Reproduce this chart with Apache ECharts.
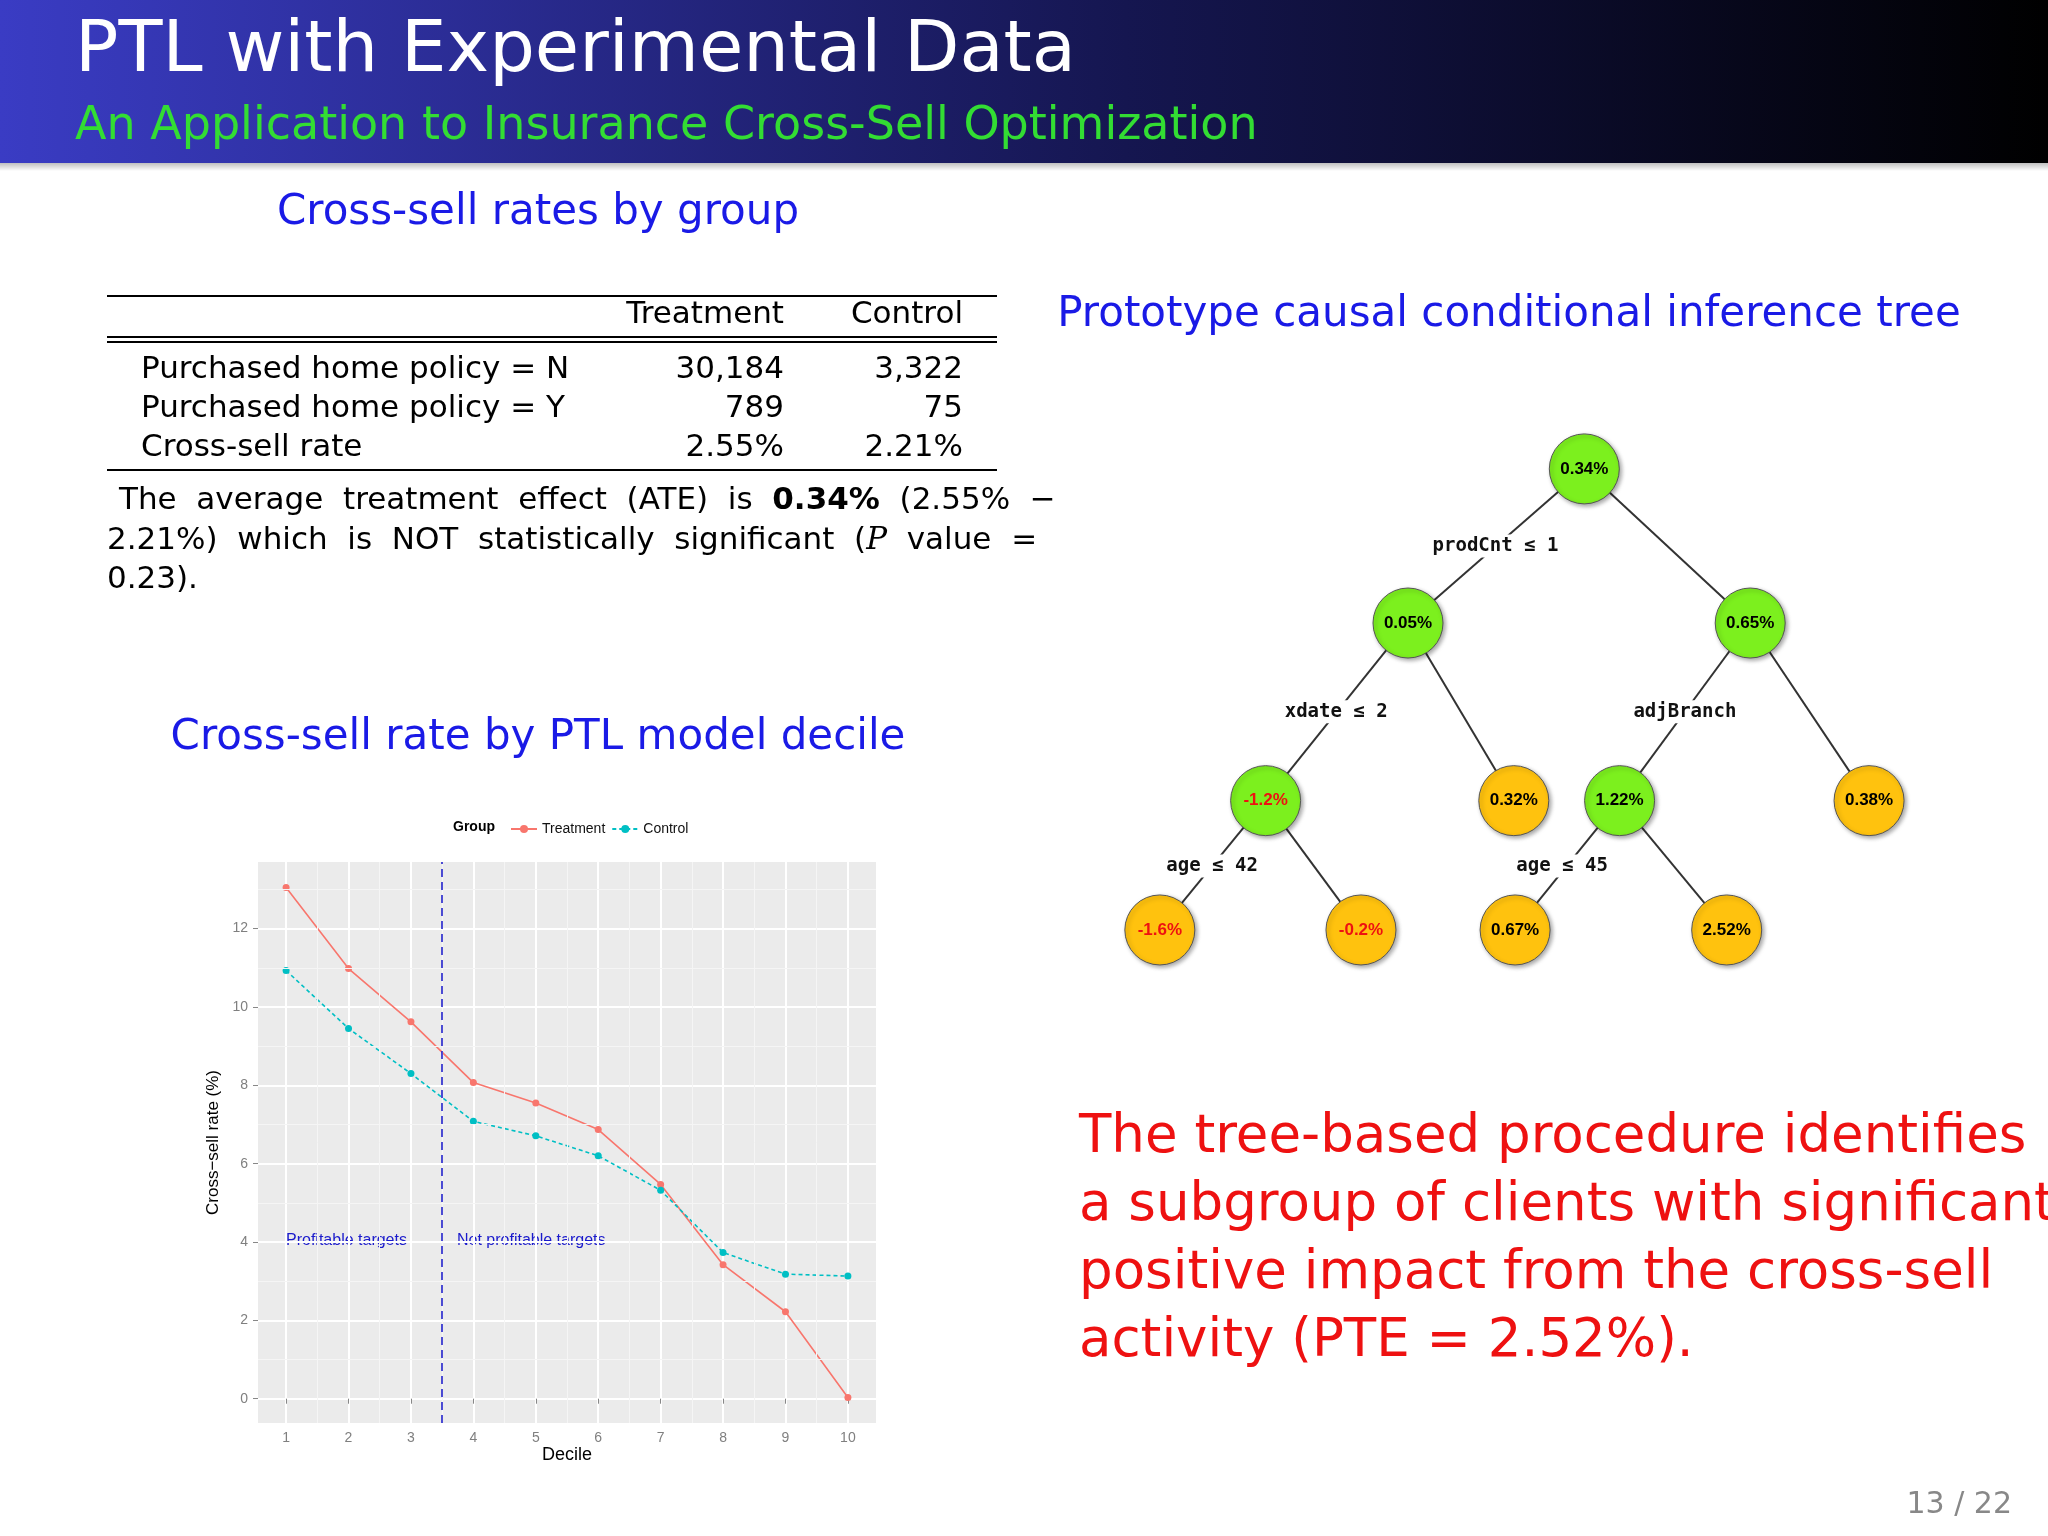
<!DOCTYPE html>
<html><head><meta charset="utf-8">
<script src="https://cdn.jsdelivr.net/npm/echarts@6/dist/echarts.min.js"></script>
<style>html,body{margin:0;padding:0;background:#fff}#c{width:2048px;height:1536px}</style>
</head><body><div id="c"></div>
<script>
const deciles = [1,2,3,4,5,6,7,8,9,10];
const treatment = [13.05,10.98,9.62,8.07,7.55,6.87,5.47,3.42,2.22,0.03];
const control = [10.93,9.45,8.30,7.08,6.71,6.20,5.32,3.73,3.18,3.13];
const yTicks = [0,2,4,6,8,10,12];
const cutoff = 3.5;
const tableHeader = ['Treatment','Control'];
const tableRows = [['Purchased home policy = N','30,184','3,322'],['Purchased home policy = Y','789','75'],['Cross-sell rate','2.55%','2.21%']];
const treeNodes = [
 {name:'a',label:'0.34%',x:1213,y:359,leaf:false},
 {name:'b',label:'0.05%',x:1078,y:477,leaf:false},
 {name:'c',label:'0.65%',x:1340,y:477,leaf:false},
 {name:'d',label:'-1.2%',x:969,y:613,leaf:false},
 {name:'e',label:'0.32%',x:1159,y:613,leaf:true},
 {name:'f',label:'1.22%',x:1240,y:613,leaf:false},
 {name:'g',label:'0.38%',x:1431,y:613,leaf:true},
 {name:'h',label:'-1.6%',x:888,y:712,leaf:true},
 {name:'i',label:'-0.2%',x:1042,y:712,leaf:true},
 {name:'j',label:'0.67%',x:1160,y:712,leaf:true},
 {name:'k',label:'2.52%',x:1322,y:712,leaf:true}];
const treeEdges = [['a','b'],['a','c'],['b','d'],['b','e'],['c','f'],['c','g'],['d','h'],['d','i'],['f','j'],['f','k']];
const splitLabels = [['prodCnt ≤ 1',1145,418],['xdate ≤ 2',1023,545],['adjBranch',1290,545],['age ≤ 42',928,663],['age ≤ 45',1196,663]];

const S = 2048/1568;
const chart = echarts.init(document.getElementById('c'));
const g = [];
g.push({type:'rect',shape:{x:0,y:0,width:2048,height:163},style:{fill:new echarts.graphic.LinearGradient(0,0,1,0,[{offset:0,color:'#3a3cc4'},{offset:0.55,color:'#151650'},{offset:1,color:'#000'}])}});
g.push({type:'rect',shape:{x:0,y:163,width:2048,height:8},style:{fill:new echarts.graphic.LinearGradient(0,0,0,1,[{offset:0,color:'rgba(0,0,0,0.25)'},{offset:1,color:'rgba(0,0,0,0)'}])}});
g.push({type:'text',x:75,y:88,style:{text:'PTL with Experimental Data',fill:'#fff',font:'72px "DejaVu Sans"',textVerticalAlign:'bottom'}});
g.push({type:'text',x:75,y:150,style:{text:'An Application to Insurance Cross-Sell Optimization',fill:'#33dd33',font:'46px "DejaVu Sans"',textVerticalAlign:'bottom'}});
const blue='#1a1ae6';
g.push({type:'text',x:538,y:213,style:{text:'Cross-sell rates by group',fill:blue,font:'42px "DejaVu Sans"',textAlign:'center',textVerticalAlign:'middle'}});
g.push({type:'text',x:538,y:738,style:{text:'Cross-sell rate by PTL model decile',fill:blue,font:'42px "DejaVu Sans"',textAlign:'center',textVerticalAlign:'middle'}});
g.push({type:'text',x:1509,y:315,style:{text:'Prototype causal conditional inference tree',fill:blue,font:'42px "DejaVu Sans"',textAlign:'center',textVerticalAlign:'middle'}});
// table
[[296,2],[337,2],[342,2],[470,2]].forEach(([y,w])=>g.push({type:'line',shape:{x1:107,y1:y,x2:997,y2:y},style:{stroke:'#000',lineWidth:w}}));
const tf='31px "DejaVu Sans"';
g.push({type:'text',x:784,y:315,style:{text:tableHeader[0],font:tf,textAlign:'right',textVerticalAlign:'middle',fill:'#000'}});
g.push({type:'text',x:963,y:315,style:{text:tableHeader[1],font:tf,textAlign:'right',textVerticalAlign:'middle',fill:'#000'}});
tableRows.forEach((r,i)=>{const y=370+i*39;
 g.push({type:'text',x:141,y:y,style:{text:r[0],font:tf,textVerticalAlign:'middle',fill:'#000'}});
 g.push({type:'text',x:784,y:y,style:{text:r[1],font:tf,textAlign:'right',textVerticalAlign:'middle',fill:'#000'}});
 g.push({type:'text',x:963,y:y,style:{text:r[2],font:tf,textAlign:'right',textVerticalAlign:'middle',fill:'#000'}});});
g.push({type:'text',x:119,y:501,style:{text:'The  average  treatment  effect  (ATE)  is  {b|0.34%}  (2.55%  −',font:tf,textVerticalAlign:'middle',fill:'#000',rich:{b:{font:'bold 31px "DejaVu Sans"'}}}});
g.push({type:'text',x:107,y:541,style:{text:'2.21%)  which  is  NOT  statistically  significant  ({i|P}  value  =',font:tf,textVerticalAlign:'middle',fill:'#000',rich:{i:{font:'italic 31px "DejaVu Serif"'}}}});
g.push({type:'text',x:107,y:580,style:{text:'0.23).',font:tf,textVerticalAlign:'middle',fill:'#000'}});
// red text
['The tree-based procedure identifies','a subgroup of clients with significant','positive impact from the cross-sell','activity (PTE = 2.52%).'].forEach((t,i)=>g.push({type:'text',x:1079,y:1138+i*68,style:{text:t,font:'53px "DejaVu Sans"',fill:'#ee1111',textVerticalAlign:'middle'}}));
g.push({type:'text',x:2012,y:1505,style:{text:'13 / 22',font:'30px "DejaVu Sans"',fill:'#888',textAlign:'right',textVerticalAlign:'middle'}});
// chart annotations
g.push({type:'text',x:453,y:827,style:{text:'Group',font:'bold 14px "Liberation Sans"',fill:'#000',textVerticalAlign:'middle'}});
g.push({type:'text',x:286,y:1241,style:{text:'Profitable targets',font:'16px "Liberation Sans"',fill:'#1a1acc',textVerticalAlign:'middle'}});
g.push({type:'text',x:457,y:1241,style:{text:'Not profitable targets',font:'16px "Liberation Sans"',fill:'#1a1acc',textVerticalAlign:'middle'}});
// tree split labels
splitLabels.forEach(([t,x,y])=>g.push({type:'text',x:x*S,y:y*S,z:100,style:{text:t,font:'bold 19px "DejaVu Sans Mono"',fill:'#111',textAlign:'center',textVerticalAlign:'middle',backgroundColor:'#fff',padding:[2,4]}}));

const xs=[],ys=[];
const ml=[];
for(let v=0.5;v<=10.5;v+=1) ml.push({xAxis:v});
for(let v=-1;v<=13;v+=2) ml.push({yAxis:v});

chart.setOption({
 animation:false,
 graphic:g,
 legend:{top:817,left:505,itemWidth:26,itemHeight:10,itemGap:6,textStyle:{fontSize:14,fontFamily:'Liberation Sans',color:'#111'},data:['Treatment','Control']},
 grid:{left:258,top:862,width:618,height:561,show:true,backgroundColor:'#ebebeb',borderWidth:0},
 xAxis:{type:'value',min:0.55,max:10.45,name:'Decile',nameLocation:'middle',nameGap:22,nameTextStyle:{fontSize:18,fontFamily:'Liberation Sans',color:'#000'},
  axisLine:{show:false},axisTick:{show:true,customValues:deciles,length:5,lineStyle:{color:'#888'}},
  axisLabel:{customValues:deciles,color:'#7f7f7f',fontSize:14,fontFamily:'Liberation Sans',margin:8},
  splitLine:{show:true,lineStyle:{color:'#fff',width:2}}},
 yAxis:{type:'value',min:-0.62,max:13.7,name:'Cross−sell rate (%)',nameLocation:'middle',nameGap:36,nameTextStyle:{fontSize:17,fontFamily:'Liberation Sans',color:'#000'},
  axisLine:{show:false},axisTick:{show:true,customValues:yTicks,length:5,lineStyle:{color:'#888'}},
  axisLabel:{customValues:yTicks,color:'#7f7f7f',fontSize:14,fontFamily:'Liberation Sans',margin:10},
  splitLine:{show:true,lineStyle:{color:'#fff',width:2}}},
 series:[
  {name:'Treatment',type:'line',data:deciles.map((d,i)=>[d,treatment[i]]),color:'#f8766d',symbol:'circle',symbolSize:7,lineStyle:{width:1.6},
   markLine:{silent:true,symbol:'none',label:{show:false},lineStyle:{color:'#f5f5f5',width:1,type:'solid'},data:ml}},
  {name:'Control',type:'line',data:deciles.map((d,i)=>[d,control[i]]),color:'#00bfc4',symbol:'circle',symbolSize:7,lineStyle:{width:1.6,type:[4,3]},
   markLine:{silent:true,symbol:'none',label:{show:false},lineStyle:{color:'#2222cc',width:1.6,type:[8,5]},data:[{xAxis:cutoff}]}},
  {type:'graph',layout:'none',left:888*S,top:359*S,width:(1431-888)*S,height:(712-359)*S,z:1,
   symbolSize:70,
   data:treeNodes.map(n=>({name:n.name,x:n.x,y:n.y,itemStyle:{color:n.leaf?'#ffc20e':'#7cf01e',borderColor:'#555',borderWidth:1,shadowColor:'rgba(0,0,0,0.35)',shadowBlur:4,shadowOffsetX:2,shadowOffsetY:2},
     label:{show:true,formatter:n.label,fontWeight:'bold',fontSize:17,fontFamily:'Liberation Sans',color:n.label.startsWith('-')?'#ee1111':'#000'}})),
   links:treeEdges.map(([s,t])=>({source:s,target:t})),
   lineStyle:{color:'#333',width:2,opacity:1}}
 ]
});
</script></body></html>
